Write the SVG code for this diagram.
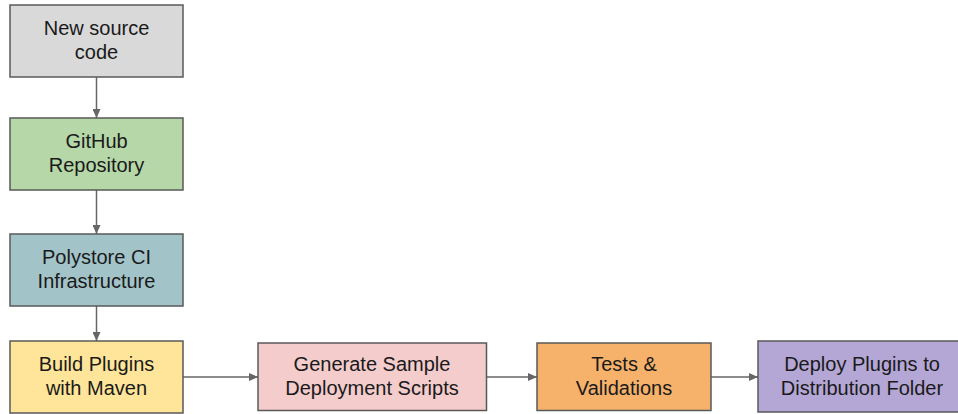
<svg xmlns="http://www.w3.org/2000/svg" width="958" height="414" viewBox="0 0 958 414">
<defs>
<style>
.box{stroke:#595959;stroke-width:1.5}
.t{font-family:"Liberation Sans",Arial,sans-serif;font-size:20px;fill:#1a1a1a;text-anchor:middle}
.c{stroke:#666;stroke-width:1.5;fill:none}
</style>
<marker id="ah" viewBox="0 0 10 10" refX="10" refY="5" markerWidth="9" markerHeight="8" orient="auto" markerUnits="userSpaceOnUse" preserveAspectRatio="none">
<path d="M0,0 L10,5 L0,10 z" fill="#666"/>
</marker>
</defs>
<rect width="958" height="414" fill="#fff"/>
<g id="connectors">
<line class="c" x1="96.5" y1="77" x2="96.5" y2="118" marker-end="url(#ah)"/>
<line class="c" x1="96.5" y1="190" x2="96.5" y2="234" marker-end="url(#ah)"/>
<line class="c" x1="96.5" y1="306" x2="96.5" y2="341" marker-end="url(#ah)"/>
<line class="c" x1="183" y1="377" x2="258" y2="377" marker-end="url(#ah)"/>
<line class="c" x1="486.5" y1="377" x2="537" y2="377" marker-end="url(#ah)"/>
<line class="c" x1="711" y1="377" x2="758" y2="377" marker-end="url(#ah)"/>
</g>
<g id="n1">
<rect class="box" x="10" y="5" width="173" height="72" fill="#d9d9d9"/>
<text class="t" x="96.5" y="35">New source</text>
<text class="t" x="96.5" y="59">code</text>
</g>
<g id="n2">
<rect class="box" x="10" y="118" width="173" height="72" fill="#b6d7a8"/>
<text class="t" x="96.5" y="148">GitHub</text>
<text class="t" x="96.5" y="172">Repository</text>
</g>
<g id="n3">
<rect class="box" x="10" y="234" width="173" height="72" fill="#a2c4c9"/>
<text class="t" x="96.5" y="264">Polystore CI</text>
<text class="t" x="96.5" y="288">Infrastructure</text>
</g>
<g id="n4">
<rect class="box" x="10" y="341" width="173" height="72" fill="#ffe599"/>
<text class="t" x="96.5" y="371">Build Plugins</text>
<text class="t" x="96.5" y="395">with Maven</text>
</g>
<g id="n5">
<rect class="box" x="258" y="343" width="228.5" height="67.5" fill="#f4cccc"/>
<text class="t" x="372" y="371">Generate Sample</text>
<text class="t" x="372" y="395">Deployment Scripts</text>
</g>
<g id="n6">
<rect class="box" x="537" y="343" width="174" height="67.5" fill="#f6b26b"/>
<text class="t" x="624" y="371">Tests &amp;</text>
<text class="t" x="624" y="395">Validations</text>
</g>
<g id="n7">
<rect class="box" x="758" y="341" width="208" height="71" fill="#b4a7d6"/>
<text class="t" x="862" y="371">Deploy Plugins to</text>
<text class="t" x="862" y="395">Distribution Folder</text>
</g>
</svg>
